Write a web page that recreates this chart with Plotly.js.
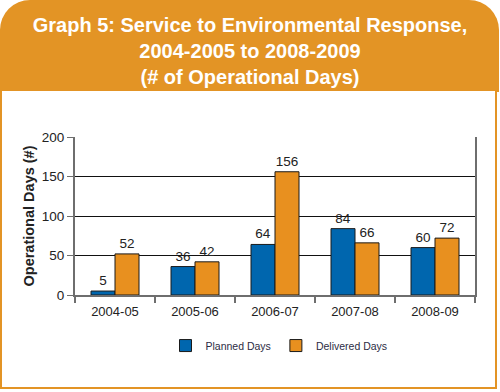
<!DOCTYPE html>
<html>
<head>
<meta charset="utf-8">
<script src="https://cdn.plot.ly/plotly-3.0.1.min.js"></script>
<style>
  html, body { margin: 0; padding: 0; background: #ffffff; }
  #frame { position: absolute; left: 0; top: 0; width: 500px; height: 392px; overflow: hidden; }
  #header { position: absolute; left: 0; top: 0; width: 499px; height: 92px; background: #E39425; border-radius: 30px 30px 0 0; }
  #box { position: absolute; left: 0; top: 91px; width: 493px; height: 296px; background: #ffffff; border: 2px solid #E39425; border-top: none; }
  #chart { position: absolute; left: 0; top: 0; width: 500px; height: 392px; }
</style>
</head>
<body>
<div id="frame">
  <div id="header"></div>
  <div id="box"></div>
  <div id="chart"></div>
</div>
<script>
const categories = ["2004-05", "2005-06", "2006-07", "2007-08", "2008-09"];
const plannedDays = [5, 36, 64, 84, 60];
const deliveredDays = [52, 42, 156, 66, 72];
const seriesNames = ["Planned Days", "Delivered Days"];
const yTicks = [0, 50, 100, 150, 200];
const titleText = "Graph 5: Service to Environmental Response,<br>2004-2005 to 2008-2009<br>(# of Operational Days)";
const yTitle = "Operational Days (#)";

const sans = "Liberation Sans, Arial, Helvetica, sans-serif";

const traces = [
  {
    type: "bar", name: seriesNames[0], x: categories, y: plannedDays,
    text: plannedDays.map(String), textposition: "outside", cliponaxis: false,
    textfont: {family: sans, size: 13.5, color: "#222222"},
    marker: {color: "#0066AE", line: {color: "#1a1a1a", width: 1}}
  },
  {
    type: "bar", name: seriesNames[1], x: categories, y: deliveredDays,
    text: deliveredDays.map(String), textposition: "outside", cliponaxis: false,
    textfont: {family: sans, size: 13.5, color: "#222222"},
    marker: {color: "#E8901F", line: {color: "#1a1a1a", width: 1}}
  }
];

const layout = {
  width: 500, height: 392,
  paper_bgcolor: "rgba(0,0,0,0)", plot_bgcolor: "rgba(0,0,0,0)",
  margin: {l: 75, r: 25, t: 137, b: 97, pad: 0},
  barmode: "group", bargap: 0.4, bargroupgap: 0,
  font: {family: sans, color: "#222222"},
  title: {
    text: titleText, x: 0.5, xanchor: "center", y: 0.919, yanchor: "top",
    yref: "container",
    font: {family: sans, size: 20, color: "#ffffff", weight: "bold"}
  },
  xaxis: {
    type: "category", showgrid: false, showline: true, linecolor: "#6e6e6e", linewidth: 2,
    ticks: "outside", ticklen: 6, tickcolor: "#6e6e6e", tickwidth: 2, tickson: "boundaries",
    tickfont: {family: sans, size: 13, color: "#222222"}, ticklabelstandoff: 3,
    zeroline: false
  },
  yaxis: {
    range: [0, 200], tickvals: yTicks, showgrid: true, gridcolor: "#111111", gridwidth: 1,
    showline: true, linecolor: "#6e6e6e", linewidth: 2, mirror: true,
    ticks: "outside", ticklen: 6, tickcolor: "#6e6e6e", tickwidth: 1,
    tickfont: {family: sans, size: 13.5, color: "#222222"},
    zeroline: false,
    title: {text: yTitle, font: {family: sans, size: 14.5, color: "#222222", weight: "bold"}, standoff: 4}
  },
  legend: {
    orientation: "h", x: 0.51, xanchor: "center", y: -0.32, yanchor: "middle",
    font: {family: sans, size: 10.5, color: "#2c2c44"}, itemwidth: 30,
    bgcolor: "rgba(0,0,0,0)"
  },
  showlegend: true
};

Plotly.newPlot("chart", traces, layout, {displayModeBar: false, staticPlot: true});
</script>
</body>
</html>
